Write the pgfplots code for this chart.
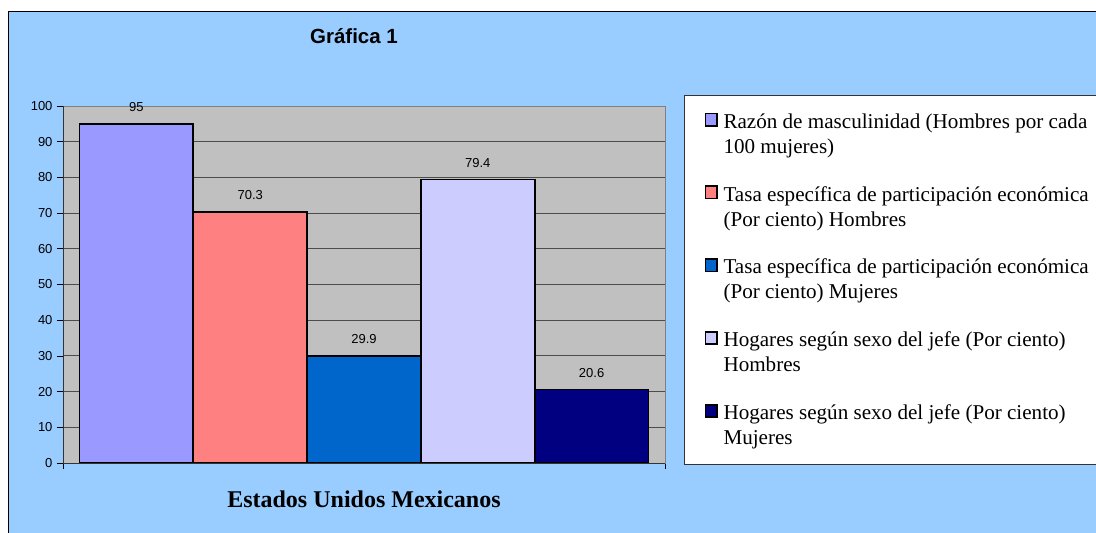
\documentclass[border=0pt]{standalone}
\usepackage{pgfplots}
\pgfplotsset{compat=1.18}
\usepackage{fontspec}
\setmainfont{Liberation Serif}
\setsansfont{Liberation Sans}
\definecolor{bgblue}{HTML}{99CCFF}
\definecolor{plotgray}{HTML}{C0C0C0}
\definecolor{cA}{HTML}{9999FF}
\definecolor{cB}{HTML}{FF8080}
\definecolor{cC}{HTML}{0066CC}
\definecolor{cD}{HTML}{CCCCFF}
\definecolor{cE}{HTML}{000080}
\pgfplotsset{mybar/.style={ybar, bar width=1, bar shift=0pt, draw=black, line width=1.8pt, fill=#1}}
\begin{document}
\begin{tikzpicture}
\path[use as bounding box] (0,0) rectangle (1096pt,-533pt);
\clip (0,0) rectangle (1096pt,-533pt);
\fill[white] (0,0) rectangle (1096pt,-533pt);
\filldraw[fill=bgblue, draw=black, line width=1pt] (8pt,-11pt) rectangle (1110pt,-545pt);
\node[anchor=base, font=\sffamily\bfseries\fontsize{20.5}{24}\selectfont] at (354pt,-43pt) {Gráfica 1};
\begin{axis}[
  at={(63pt,-463pt)}, anchor=south west,
  width=602pt, height=357pt, scale only axis,
  xmin=0.355, xmax=5.645, ymin=0, ymax=100,
  ytick={0,10,...,100},
  xtick={0.355,5.645}, xticklabels={},
  ytick pos=left, xtick pos=bottom,
  tick align=outside, major tick length=6pt,
  tick style={black, line width=0.8pt},
  ymajorgrids, grid style={draw=black!70, line width=0.9pt},
  axis background/.style={fill=plotgray},
  axis line style={draw=black!50, line width=1pt},
  ticklabel style={font=\sffamily\fontsize{13}{15}\selectfont},
  /pgf/number format/assume math mode=true,
  yticklabel style={xshift=-1pt},
  nodes near coords,
  every node near coord/.append style={font=\sffamily\fontsize{13}{15}\selectfont, black, anchor=south, yshift=9pt, line width=0pt},
  legend style={at={(axis description cs:1.0316,1.0308)}, anchor=north west,
    draw=black!80, line width=1pt, fill=white,
    inner xsep=20pt, inner ysep=16pt,
    font=\fontsize{21.1}{25}\selectfont,
    cells={align=left, inner sep=0pt},
    row sep=27.5pt, column sep=4pt},
  legend cell align=left,
  legend image code/.code={\draw[#1, draw=black, line width=1.6pt] (0.8pt,8.3pt) rectangle (12.2pt,20.7pt);},
  after end axis/.code={\draw[black!80, line width=1pt] (rel axis cs:0,1) -- (rel axis cs:0,0) -- (rel axis cs:1,0);},
]
\addplot[mybar=cA] coordinates {(1,95)};
\addlegendentry{Razón de masculinidad (Hombres por cada\\100 mujeres)}
\addplot[mybar=cB] coordinates {(2,70.3)};
\addlegendentry{Tasa específica de participación económica\\(Por ciento) Hombres}
\addplot[mybar=cC] coordinates {(3,29.9)};
\addlegendentry{Tasa específica de participación económica\\(Por ciento) Mujeres}
\addplot[mybar=cD] coordinates {(4,79.4)};
\addlegendentry{Hogares según sexo del jefe (Por ciento)\\Hombres}
\addplot[mybar=cE] coordinates {(5,20.6)};
\addlegendentry{Hogares según sexo del jefe (Por ciento)\\Mujeres}
\end{axis}
\node[anchor=base, font=\bfseries\fontsize{24}{28}\selectfont] at (364pt,-507pt) {Estados Unidos Mexicanos};
\end{tikzpicture}
\end{document}
